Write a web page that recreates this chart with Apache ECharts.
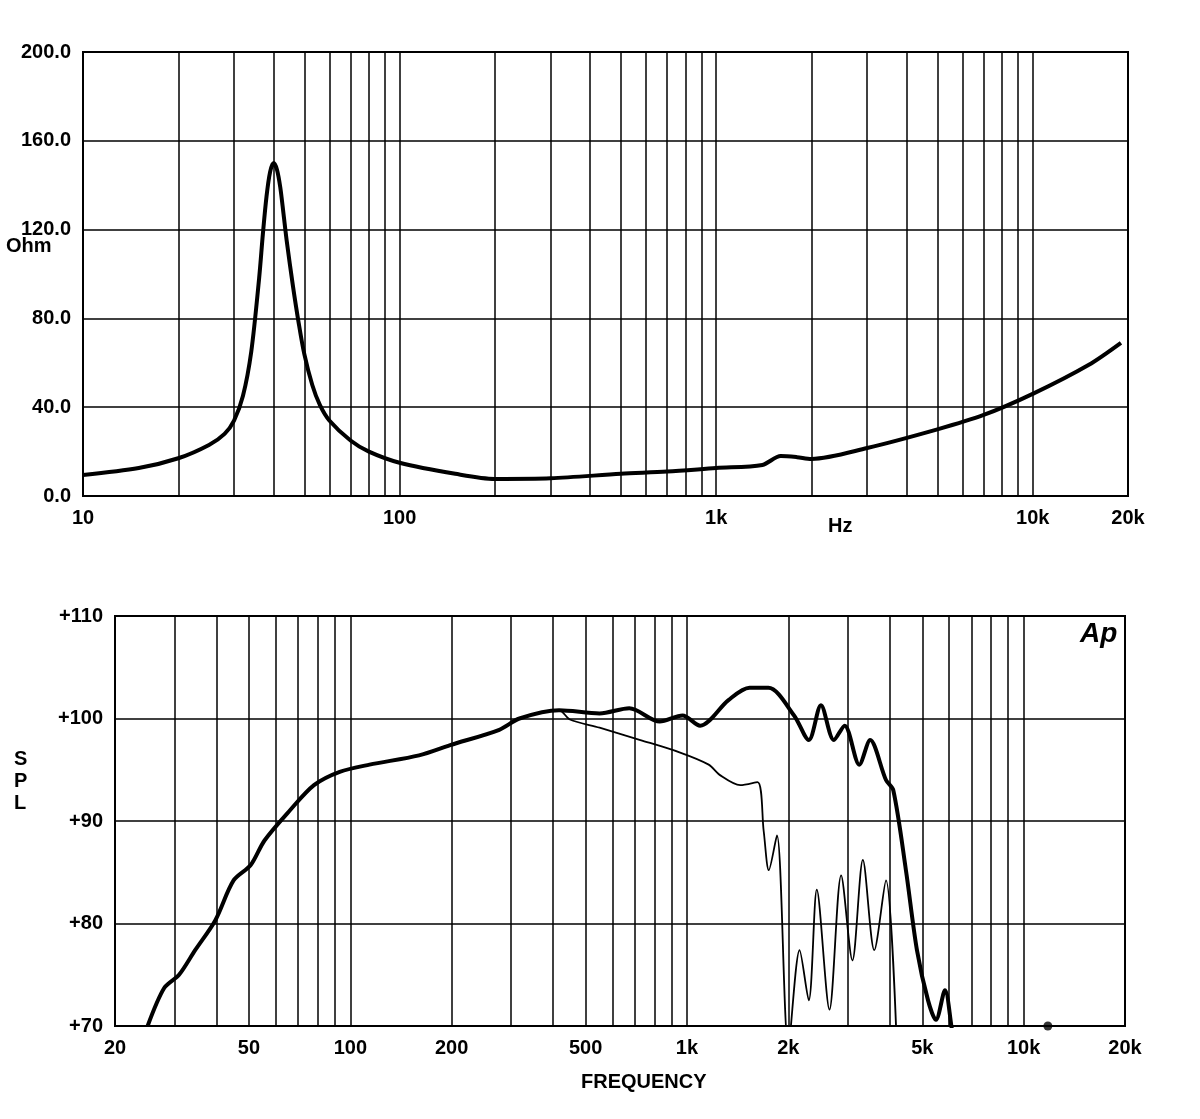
<!DOCTYPE html><html><head><meta charset="utf-8">
<script src="https://cdn.jsdelivr.net/npm/echarts@6/dist/echarts.min.js"></script>
<style>body{margin:0;background:#fff}#c{width:1200px;height:1119px}</style></head><body><div id="c"></div>
<script>
const impFreq=[10,15,20,25,28,30,32,34,36,37,38,39,40,41,42,43,44,46,48,50,53,56,60,70,80,100,150,200,300,500,700,1000,1400,1600,1800,2000,3000,5000,7000,10000,15000,19000];
const impOhm=[9.5,12.6,17,23,28,34,45,65,98,118,135,146,150,147,139,127,115,95,78,64,50,41,34,25,20,15,10,7.7,8,10,11,12.6,14,18,17.5,16.7,21.6,30,36.5,46,59,69];
const splFreq=[25,28,31,34.6,39.7,45,50.6,55.6,66,78,93,114,160,198,277,318,417,550,674,830,970,1094,1328,1534,1745,2080,2300,2500,2730,2940,3250,3500,3900,4100,4470,4820,5200,5490,5840,6100,6200];
const splOn=[70,73.7,75,77.4,80.3,84.2,85.7,88.1,91,93.5,94.8,95.5,96.4,97.4,98.9,100,100.8,100.5,101,99.7,100.3,99.3,101.8,103,103,100.3,97.9,101.3,97.9,99.3,95.5,97.9,94,93,85.2,77.4,72.5,70.6,73.5,70,68];
const offFreq=[25,28,31,34.6,39.7,45,50.6,55.6,66,78,93,114,160,198,277,318,417,449,550,727,950,1160,1250,1440,1620,1690,1750,1850,2000,2160,2300,2430,2650,2870,3100,3330,3600,3900,4200];
const splOff=[70,73.7,75,77.4,80.3,84.2,85.7,88.1,91,93.5,94.8,95.5,96.4,97.4,98.9,100,100.8,99.9,99.1,97.9,96.7,95.5,94.5,93.5,93.8,89,85.2,88.6,68,77.4,72.5,83.3,71.6,84.7,76.4,86.2,77.4,84.2,68];
const topGrid=[20,30,40,50,60,70,80,90,100,200,300,400,500,600,700,800,900,1000,2000,3000,4000,5000,6000,7000,8000,9000,10000];
const topLabels={10:'10',100:'100',1000:'1k',10000:'10k',20000:'20k'};
const botGrid=[30,40,50,60,70,80,90,100,200,300,400,500,600,700,800,900,1000,2000,3000,4000,5000,6000,7000,8000,9000,10000];
const botLabels={20:'20',50:'50',100:'100',200:'200',500:'500',1000:'1k',2000:'2k',5000:'5k',10000:'10k',20000:'20k'};
const F='"Liberation Sans Narrow","Liberation Sans",Arial';
function gridML(arr,labels){
  const all=[...new Set([...arr,...Object.keys(labels).map(Number)])];
  return {silent:true,symbol:'none',animation:false,lineStyle:{color:'#000',width:1.5,type:'solid'},
    data:all.map(v=>({xAxis:v,label:{show:!!labels[v],position:'start',formatter:labels[v]||'',distance:12,color:'#000',fontSize:20,fontFamily:F,fontWeight:'bold'}}))};
}
const c=echarts.init(document.getElementById('c'));
c.setOption({animation:false,
grid:[{left:83,right:72,top:52,height:444,show:true,borderColor:'#000',borderWidth:2},
      {left:115,right:75,top:616,height:410,show:true,borderColor:'#000',borderWidth:2}],
xAxis:[{type:'log',gridIndex:0,min:10,max:20000,axisLabel:{show:false},axisTick:{show:false},splitLine:{show:false},axisLine:{show:false}},
       {type:'log',gridIndex:1,min:20,max:20000,axisLabel:{show:false},axisTick:{show:false},splitLine:{show:false},axisLine:{show:false}}],
yAxis:[{type:'value',gridIndex:0,min:0,max:200,interval:40,axisLine:{show:false},axisTick:{show:false},
  splitLine:{lineStyle:{color:'#000',width:1.5}},axisLabel:{formatter:v=>v.toFixed(1),color:'#000',fontSize:20,fontFamily:F,fontWeight:'bold',margin:12}},
  {type:'value',gridIndex:1,min:70,max:110,interval:10,axisLine:{show:false},axisTick:{show:false},
  splitLine:{lineStyle:{color:'#000',width:1.5}},axisLabel:{formatter:v=>'+'+v,color:'#000',fontSize:20,fontFamily:F,fontWeight:'bold',margin:12}}],
series:[
 {type:'line',xAxisIndex:0,yAxisIndex:0,data:impFreq.map((f,i)=>[f,impOhm[i]]),smooth:0.3,symbol:'none',lineStyle:{color:'#000',width:4},markLine:gridML(topGrid,topLabels)},
 {type:'line',xAxisIndex:1,yAxisIndex:1,data:splFreq.map((f,i)=>[f,splOn[i]]),smooth:0.3,symbol:'none',clip:true,lineStyle:{color:'#000',width:4},markLine:gridML(botGrid,botLabels)},
 {type:'line',xAxisIndex:1,yAxisIndex:1,data:offFreq.map((f,i)=>[f,splOff[i]]),smooth:0.3,symbol:'none',clip:true,lineStyle:{color:'#000',width:1.8}},
 {type:'scatter',xAxisIndex:1,yAxisIndex:1,data:[[11800,70]],symbolSize:9,itemStyle:{color:'#000'}}
],
graphic:[
 {type:'text',left:6,top:236,style:{text:'Ohm',font:'bold 20px '+F,fill:'#000'}},
 {type:'text',left:828,top:516,style:{text:'Hz',font:'bold 20px '+F,fill:'#000'}},
 {type:'text',left:14,top:748,style:{text:'S\nP\nL',font:'bold 20px '+F,fill:'#000',lineHeight:22}},
 {type:'text',left:581,top:1072,style:{text:'FREQUENCY',font:'bold 20px '+F,fill:'#000'}},
 {type:'text',left:1080,top:620,style:{text:'Ap',font:'italic bold 28px '+F,fill:'#000'}}
]});
</script></body></html>
